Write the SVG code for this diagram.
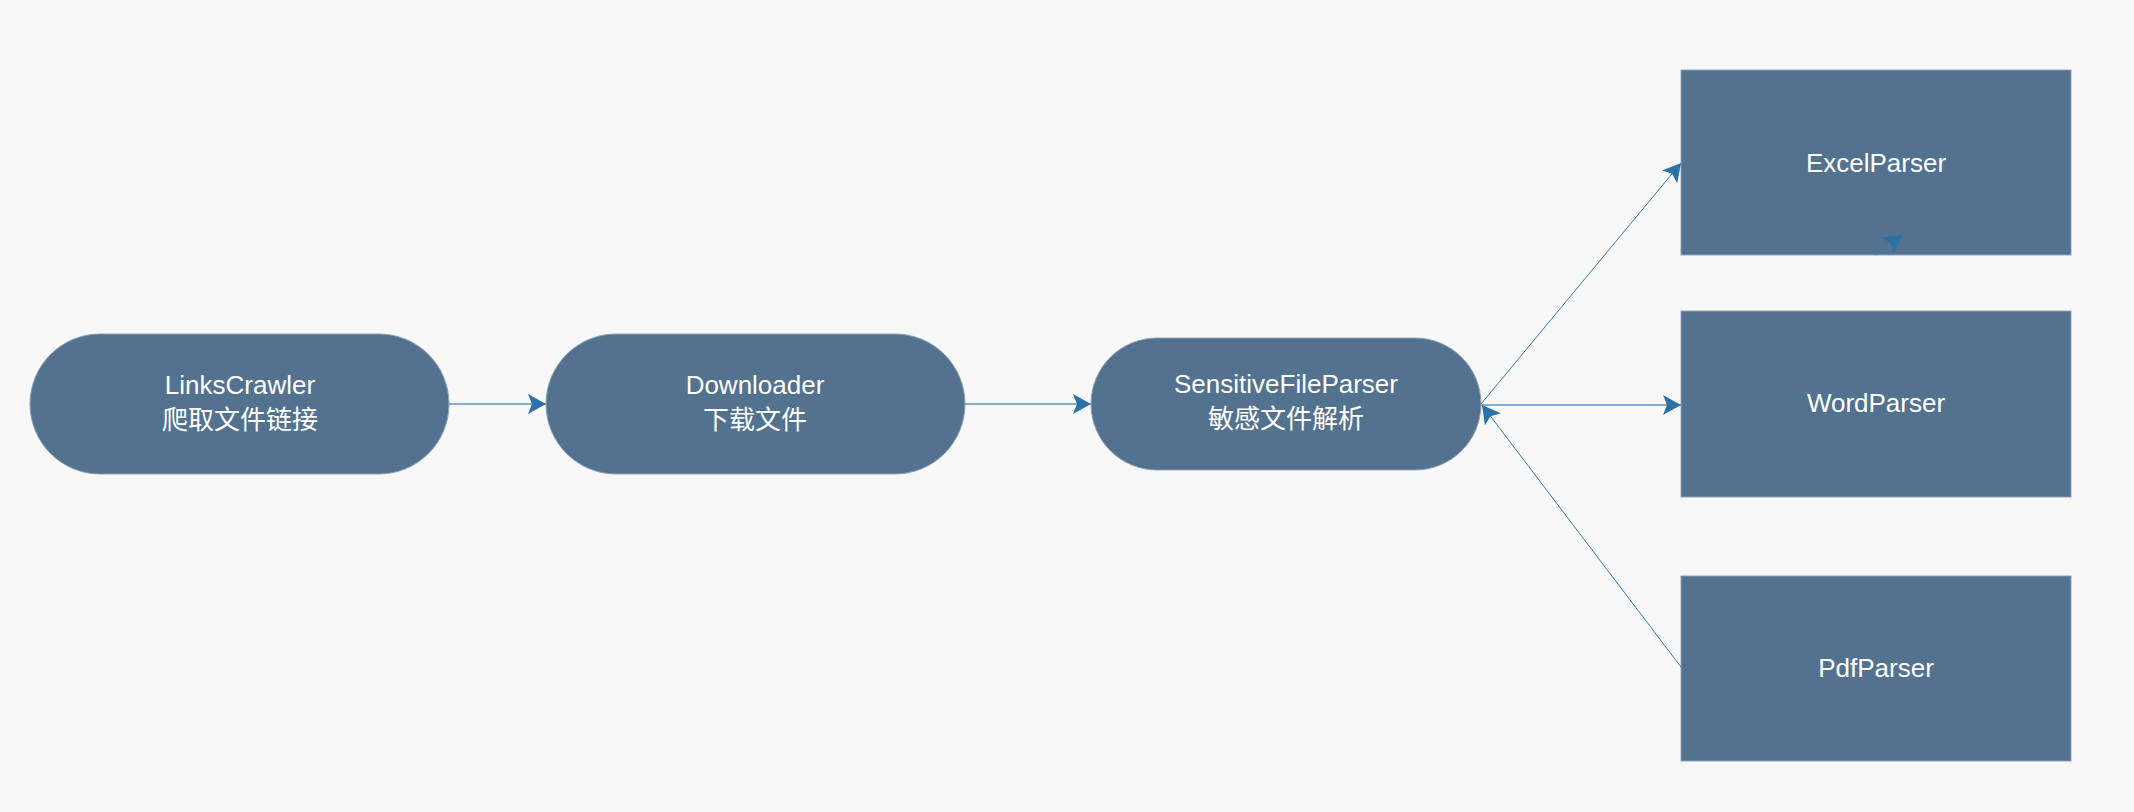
<svg xmlns="http://www.w3.org/2000/svg" width="2134" height="812" viewBox="0 0 2134 812">
<style>
.node{fill:#52728f;stroke:#8ea3b8;stroke-width:1}
.t{fill:#ffffff;font-family:"Liberation Sans","Noto Sans CJK SC",sans-serif;font-size:26px;text-anchor:middle}
.h{fill:none;stroke:#86aecd;stroke-width:2}
.d{fill:none;stroke:#3c7bab;stroke-width:1}
</style>
<defs>
<marker id="ah" viewBox="0 0 18 20" refX="18" refY="10" markerWidth="18" markerHeight="20" markerUnits="userSpaceOnUse" orient="auto">
<path d="M0,0 L18,10 L0,20 L4,10 Z" fill="#2a72a8"/>
</marker>
</defs>
<rect width="2134" height="812" fill="#f8f8f8"/>
<g id="LinksCrawler">
<rect class="node" x="30" y="334" width="419" height="140" rx="70" ry="70"/>
<text class="t" x="240" y="394">LinksCrawler</text>
<text class="t" x="240" y="429">爬取文件链接</text>
</g>
<g id="Downloader">
<rect class="node" x="546" y="334" width="419" height="140" rx="70" ry="70"/>
<text class="t" x="755" y="394">Downloader</text>
<text class="t" x="755" y="429">下载文件</text>
</g>
<g id="SensitiveFileParser">
<rect class="node" x="1091" y="338" width="390" height="132" rx="66" ry="66"/>
<text class="t" x="1286" y="393">SensitiveFileParser</text>
<text class="t" x="1286" y="428">敏感文件解析</text>
</g>
<g id="ExcelParser">
<rect class="node" x="1681" y="70" width="390" height="185"/>
<text class="t" x="1876" y="172">ExcelParser</text>
</g>
<g id="WordParser">
<rect class="node" x="1681" y="311" width="390" height="186"/>
<text class="t" x="1876" y="412">WordParser</text>
</g>
<g id="PdfParser">
<rect class="node" x="1681" y="576" width="390" height="185"/>
<text class="t" x="1876" y="677">PdfParser</text>
</g>
<g id="connectors">
<line class="h" x1="449" y1="404" x2="546" y2="404" marker-end="url(#ah)"/>
<line class="h" x1="965" y1="404" x2="1091" y2="404" marker-end="url(#ah)"/>
<line class="h" x1="1481" y1="405" x2="1681" y2="405" marker-end="url(#ah)"/>
<line class="d" x1="1481" y1="404" x2="1681" y2="163" marker-end="url(#ah)"/>
<line class="d" x1="1681" y1="667" x2="1482" y2="405" marker-end="url(#ah)"/>
<line class="d" x1="1875" y1="255" x2="1902" y2="235" marker-end="url(#ah)"/>
</g>
</svg>
